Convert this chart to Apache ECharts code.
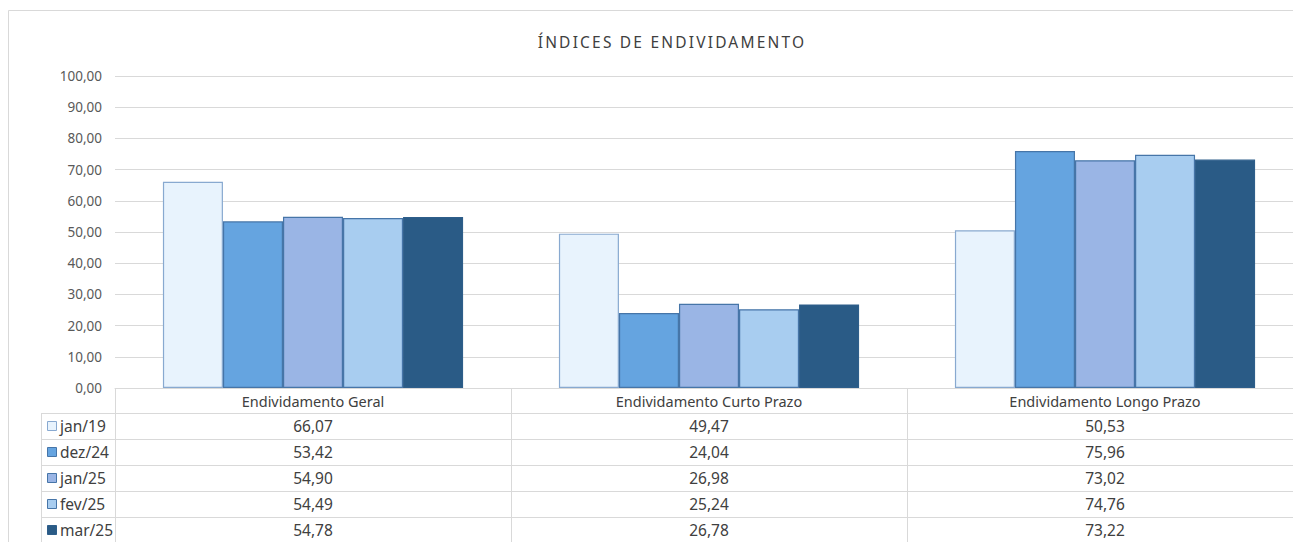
<!DOCTYPE html>
<html>
<head>
<meta charset="utf-8">
<script src="https://cdn.jsdelivr.net/npm/echarts@6/dist/echarts.min.js"></script>
<style>
html,body{margin:0;padding:0;background:#fff;}
#chart{width:1293px;height:542px;}
</style>
</head>
<body>
<div id="chart"></div>
<script>
// ---- data ----
const titleText = 'ÍNDICES DE ENDIVIDAMENTO';
const categories = ['Endividamento Geral', 'Endividamento Curto Prazo', 'Endividamento Longo Prazo'];
const seriesNames = ['jan/19', 'dez/24', 'jan/25', 'fev/25', 'mar/25'];
const jan19 = [66.07, 49.47, 50.53];
const dez24 = [53.42, 24.04, 75.96];
const jan25 = [54.90, 26.98, 73.02];
const fev25 = [54.49, 25.24, 74.76];
const mar25 = [54.78, 26.78, 73.22];
const yTicks = [0, 10, 20, 30, 40, 50, 60, 70, 80, 90, 100];

// ---- styles ----
const fills = ['#E8F3FD', '#65A4E0', '#9AB5E5', '#A8CDF0', '#2A5B86'];
const borders = ['#88A9D0', '#4675A8', '#4675A8', '#4675A8', '#2E5E8A'];
const values = [jan19, dez24, jan25, fev25, mar25];
const FONT = '"Noto Sans", "Open Sans", sans-serif';
const fmt = v => v.toFixed(2).replace('.', ',');

const chart = echarts.init(document.getElementById('chart'), null, {renderer: 'svg'});

const series = seriesNames.map((name, i) => ({
  name: name,
  type: 'bar',
  data: values[i],
  barGap: '0%',
  barCategoryGap: '24.2%',
  itemStyle: {color: fills[i], borderColor: borders[i], borderWidth: 1.2},
  emphasis: {disabled: true}
}));

const option = {
  animation: false,
  backgroundColor: '#fff',
  grid: {left: 115, top: 76, width: 1188, height: 312, containLabel: false, outerBoundsMode: 'none'},
  xAxis: {
    type: 'category',
    data: categories,
    axisLine: {show: true, lineStyle: {color: '#D9D9D9', width: 1}},
    axisTick: {show: true, length: 160, lineStyle: {color: '#D9D9D9', width: 1}},
    axisLabel: {color: '#404040', fontSize: 14.5, fontFamily: FONT, margin: 5, interval: 0}
  },
  yAxis: {
    type: 'value',
    min: yTicks[0],
    max: yTicks[yTicks.length - 1],
    interval: yTicks[1] - yTicks[0],
    axisLine: {show: false},
    axisTick: {show: false},
    axisLabel: {color: '#595959', fontSize: 13.5, fontFamily: FONT, margin: 13, formatter: fmt},
    splitLine: {lineStyle: {color: '#D9D9D9', width: 1}}
  },
  series: series
};
chart.setOption(option);

// ---- data table & frame (positions from the axis scale) ----
const rowTop = 413, rowH = 26;
const elements = [];
elements.push({type: 'rect', silent: true, shape: {x: 8.5, y: 10.5, width: 1400, height: 600},
  style: {fill: 'none', stroke: '#D9D9D9', lineWidth: 1}, z: 0});
elements.push({type: 'text', silent: true, id: 'chartTitle', x: 672, y: 42,
  style: {text: titleText, fill: '#404040', font: '15.5px ' + FONT, textAlign: 'center', textVerticalAlign: 'middle'}});
// table left border
elements.push({type: 'line', silent: true, shape: {x1: 41.5, y1: rowTop, x2: 41.5, y2: 600},
  style: {stroke: '#D9D9D9', lineWidth: 1}});
seriesNames.forEach((name, i) => {
  const y = rowTop + rowH * i;
  elements.push({type: 'line', silent: true, shape: {x1: 41, y1: y + 0.5, x2: 1400, y2: y + 0.5},
    style: {stroke: '#D9D9D9', lineWidth: 1}});
  elements.push({type: 'rect', silent: true, shape: {x: 47.5, y: y + 8.5, width: 9, height: 9},
    style: {fill: fills[i], stroke: borders[i], lineWidth: 1}});
  elements.push({type: 'text', silent: true, x: 60, y: y + rowH / 2,
    style: {text: name, fill: '#404040', font: '15.5px ' + FONT, textAlign: 'left', textVerticalAlign: 'middle'}});
  categories.forEach((c, j) => {
    const cx = chart.convertToPixel({xAxisIndex: 0}, j);
    elements.push({type: 'text', silent: true, x: cx, y: y + rowH / 2,
      style: {text: fmt(values[i][j]), fill: '#404040', font: '15.5px ' + FONT, textAlign: 'center', textVerticalAlign: 'middle'}});
  });
});
chart.setOption({graphic: {elements: elements}});

// letter spacing for the title (SVG text attribute)
function spaceTitle() {
  document.querySelectorAll('#chart text').forEach(t => {
    if (t.textContent === titleText) t.setAttribute('letter-spacing', '2.2px');
  });
}
spaceTitle();
chart.on('finished', spaceTitle);
setTimeout(spaceTitle, 50);
</script>
</body>
</html>
